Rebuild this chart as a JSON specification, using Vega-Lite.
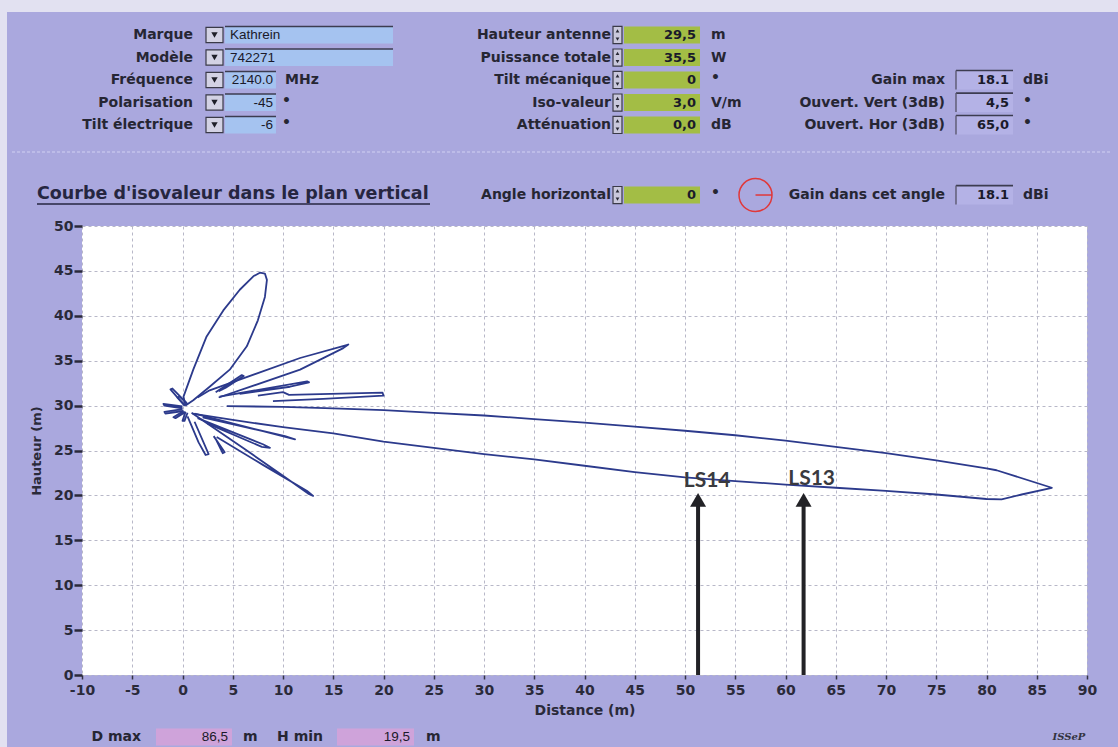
{
"$schema":"https://vega.github.io/schema/vega-lite/v6.json",
"width":1005,"height":449,
"autosize":"none",
"padding":{"left":82,"top":226,"right":31,"bottom":72},
"background":"#aaa8de",
"config":{"view":{"fill":"white","stroke":null}},
"datasets":{
"frame":[
{"x":-18.159,"x2":93.085,"y":73.83,"y2":75.3},
{"x":-18.159,"x2":-17.463,"y":-8.1,"y2":75.3}
],
"boxes":[
{"k":"blue","x":4.229,"x2":20.945,"y":70.32,"y2":72.22},
{"k":"blue","x":4.229,"x2":20.945,"y":67.81,"y2":69.71},
{"k":"blue","x":4.229,"x2":9.303,"y":65.31,"y2":67.21},
{"k":"blue","x":4.229,"x2":9.303,"y":62.80,"y2":64.70},
{"k":"blue","x":4.229,"x2":9.303,"y":60.30,"y2":62.20},
{"k":"dd","x":2.338,"x2":4.030,"y":70.42,"y2":72.12},
{"k":"dd","x":2.338,"x2":4.030,"y":67.91,"y2":69.61},
{"k":"dd","x":2.338,"x2":4.030,"y":65.41,"y2":67.11},
{"k":"dd","x":2.338,"x2":4.030,"y":62.90,"y2":64.60},
{"k":"dd","x":2.338,"x2":4.030,"y":60.40,"y2":62.10},
{"k":"green","x":43.930,"x2":51.493,"y":70.32,"y2":72.22},
{"k":"green","x":43.930,"x2":51.493,"y":67.81,"y2":69.71},
{"k":"green","x":43.930,"x2":51.493,"y":65.31,"y2":67.21},
{"k":"green","x":43.930,"x2":51.493,"y":62.80,"y2":64.70},
{"k":"green","x":43.930,"x2":51.493,"y":60.30,"y2":62.20},
{"k":"green","x":43.930,"x2":51.493,"y":52.50,"y2":54.40},
{"k":"spin","x":42.836,"x2":43.731,"y":70.32,"y2":72.22},
{"k":"spin","x":42.836,"x2":43.731,"y":67.81,"y2":69.71},
{"k":"spin","x":42.836,"x2":43.731,"y":65.31,"y2":67.21},
{"k":"spin","x":42.836,"x2":43.731,"y":62.80,"y2":64.70},
{"k":"spin","x":42.836,"x2":43.731,"y":60.30,"y2":62.20},
{"k":"spin","x":42.836,"x2":43.731,"y":52.50,"y2":54.40},
{"k":"gray","x":76.965,"x2":82.637,"y":65.21,"y2":67.31},
{"k":"gray","x":76.965,"x2":82.637,"y":62.70,"y2":64.80},
{"k":"gray","x":76.965,"x2":82.637,"y":60.20,"y2":62.30},
{"k":"gray","x":76.965,"x2":82.637,"y":52.40,"y2":54.50},
{"k":"pink","x":-2.637,"x2":4.925,"y":-7.85,"y2":-5.95},
{"k":"pink","x":15.373,"x2":23.035,"y":-7.85,"y2":-5.95}
],
"rules":[
{"k":"ul","x":-14.478,"x2":24.627,"y":52.45},
{"k":"bevel","x":4.229,"x2":20.945,"y":72.22},
{"k":"bevel","x":4.229,"x2":20.945,"y":69.71},
{"k":"bevel","x":4.229,"x2":9.303,"y":67.21},
{"k":"bevel","x":4.229,"x2":9.303,"y":64.70},
{"k":"bevel","x":4.229,"x2":9.303,"y":62.20},
{"k":"bevel","x":76.965,"x2":82.637,"y":67.31},
{"k":"bevel","x":76.965,"x2":82.637,"y":64.80},
{"k":"bevel","x":76.965,"x2":82.637,"y":62.30},
{"k":"bevel","x":76.965,"x2":82.637,"y":54.50},
{"k":"red","x":57.015,"x2":58.657,"y":53.45}
],
"vbevel":[
{"x":76.965,"y":65.21,"y2":67.31},
{"x":76.965,"y":62.70,"y2":64.80},
{"x":76.965,"y":60.20,"y2":62.30},
{"x":76.965,"y":52.40,"y2":54.50}
],
"sep":[{"x":-16.965,"x2":92.289,"y":58.24}],
"ring":[{"x":57.015,"y":53.45}],
"ddarrow":[
{"x":3.184,"y":71.27},{"x":3.184,"y":68.76},{"x":3.184,"y":66.26},{"x":3.184,"y":63.75},{"x":3.184,"y":61.25}
],
"spinarrow":[
{"s":"u","x":43.284,"y":71.72},{"s":"d","x":43.284,"y":70.82},
{"s":"u","x":43.284,"y":69.21},{"s":"d","x":43.284,"y":68.31},
{"s":"u","x":43.284,"y":66.71},{"s":"d","x":43.284,"y":65.81},
{"s":"u","x":43.284,"y":64.20},{"s":"d","x":43.284,"y":63.30},
{"s":"u","x":43.284,"y":61.70},{"s":"d","x":43.284,"y":60.80},
{"s":"u","x":43.284,"y":53.90},{"s":"d","x":43.284,"y":53.00}
],
"texts":[
{"g":"lab","t":"Marque","x":1.045,"y":71.27},
{"g":"lab","t":"Modèle","x":1.045,"y":68.76},
{"g":"lab","t":"Fréquence","x":1.045,"y":66.26},
{"g":"lab","t":"Polarisation","x":1.045,"y":63.75},
{"g":"lab","t":"Tilt électrique","x":1.045,"y":61.25},
{"g":"lab","t":"Hauteur antenne","x":42.637,"y":71.27},
{"g":"lab","t":"Puissance totale","x":42.637,"y":68.76},
{"g":"lab","t":"Tilt mécanique","x":42.637,"y":66.26},
{"g":"lab","t":"Iso-valeur","x":42.637,"y":63.75},
{"g":"lab","t":"Atténuation","x":42.637,"y":61.25},
{"g":"lab","t":"Gain max","x":75.871,"y":66.26},
{"g":"lab","t":"Ouvert. Vert (3dB)","x":75.871,"y":63.75},
{"g":"lab","t":"Ouvert. Hor (3dB)","x":75.871,"y":61.25},
{"g":"lab","t":"Angle horizontal","x":42.637,"y":53.45},
{"g":"lab","t":"Gain dans cet angle","x":75.871,"y":53.45},
{"g":"lab","t":"D max","x":-4.129,"y":-6.90},
{"g":"lab","t":"H min","x":13.98,"y":-6.90},
{"g":"valL","t":"Kathrein","x":4.726,"y":71.27},
{"g":"valL","t":"742271","x":4.726,"y":68.76},
{"g":"valR","t":"2140.0","x":9.005,"y":66.26},
{"g":"valR","t":"-45","x":9.005,"y":63.75},
{"g":"valR","t":"-6","x":9.005,"y":61.25},
{"g":"valR","t":"86,5","x":4.527,"y":-6.90},
{"g":"valR","t":"19,5","x":22.637,"y":-6.90},
{"g":"valB","t":"29,5","x":51.095,"y":71.27},
{"g":"valB","t":"35,5","x":51.095,"y":68.76},
{"g":"valB","t":"0","x":51.095,"y":66.26},
{"g":"valB","t":"3,0","x":51.095,"y":63.75},
{"g":"valB","t":"0,0","x":51.095,"y":61.25},
{"g":"valB","t":"0","x":51.095,"y":53.45},
{"g":"valB","t":"18.1","x":82.239,"y":66.26},
{"g":"valB","t":"4,5","x":82.239,"y":63.75},
{"g":"valB","t":"65,0","x":82.239,"y":61.25},
{"g":"valB","t":"18.1","x":82.239,"y":53.45},
{"g":"unit","t":"MHz","x":10.199,"y":66.26},
{"g":"unit","t":"•","x":9.90,"y":63.95},
{"g":"unit","t":"•","x":9.90,"y":61.45},
{"g":"unit","t":"m","x":52.587,"y":71.27},
{"g":"unit","t":"W","x":52.587,"y":68.76},
{"g":"unit","t":"•","x":52.587,"y":66.46},
{"g":"unit","t":"V/m","x":52.587,"y":63.75},
{"g":"unit","t":"dB","x":52.587,"y":61.25},
{"g":"unit","t":"•","x":52.587,"y":53.65},
{"g":"unit","t":"dBi","x":83.632,"y":66.26},
{"g":"unit","t":"•","x":83.632,"y":63.95},
{"g":"unit","t":"•","x":83.632,"y":61.45},
{"g":"unit","t":"dBi","x":83.632,"y":53.45},
{"g":"unit","t":"m","x":6.02,"y":-6.90},
{"g":"unit","t":"m","x":24.229,"y":-6.90},
{"g":"title","t":"Courbe d'isovaleur dans le plan vertical","x":-14.478,"y":53.56},
{"g":"logo","t":"ISSeP","x":88.2,"y":-6.9}
],
"ls":[
{"t":"LS14","x":52.2,"y":21.65,"ax":51.3,"y0":0,"y1":19.2,"tip":19.5},
{"t":"LS13","x":62.6,"y":21.8,"ax":61.8,"y0":0,"y1":19.2,"tip":19.5}
],
"curve":[
{"l":"A","i":0,"x":0.3,"y":30.0},{"l":"A","i":1,"x":0.1,"y":31.0},{"l":"A","i":2,"x":1.07,"y":34.0},{"l":"A","i":3,"x":2.4,"y":37.7},{"l":"A","i":4,"x":4.06,"y":40.6},{"l":"A","i":5,"x":5.7,"y":42.9},{"l":"A","i":6,"x":7.05,"y":44.4},{"l":"A","i":7,"x":7.7,"y":44.8},{"l":"A","i":8,"x":8.2,"y":44.7},{"l":"A","i":9,"x":8.4,"y":44.0},{"l":"A","i":10,"x":8.2,"y":42.1},{"l":"A","i":11,"x":7.5,"y":39.5},{"l":"A","i":12,"x":6.4,"y":36.6},{"l":"A","i":13,"x":4.7,"y":34.0},{"l":"A","i":14,"x":2.7,"y":32.1},{"l":"A","i":15,"x":1.07,"y":30.6},{"l":"A","i":16,"x":0.3,"y":30.0},
{"l":"B","i":0,"x":1.5,"y":30.9},{"l":"B","i":1,"x":2.7,"y":31.7},{"l":"B","i":2,"x":11.7,"y":35.3},{"l":"B","i":3,"x":16.5,"y":36.8},{"l":"B","i":4,"x":16.0,"y":36.4},{"l":"B","i":5,"x":11.7,"y":34.0},{"l":"B","i":6,"x":3.6,"y":30.9},
{"l":"C","i":0,"x":3.3,"y":31.5},{"l":"C","i":1,"x":5.9,"y":33.4},{"l":"C","i":2,"x":6.1,"y":33.3},{"l":"C","i":3,"x":4.3,"y":32.0},{"l":"C","i":4,"x":3.6,"y":31.6},
{"l":"D","i":0,"x":3.7,"y":31.0},{"l":"D","i":1,"x":12.4,"y":32.7},{"l":"D","i":2,"x":12.6,"y":32.6},{"l":"D","i":3,"x":10.7,"y":32.1},{"l":"D","i":4,"x":5.7,"y":31.3},
{"l":"E","i":0,"x":7.5,"y":31.1},{"l":"E","i":1,"x":10.0,"y":31.5},{"l":"E","i":2,"x":10.6,"y":31.2},{"l":"E","i":3,"x":19.9,"y":31.45},{"l":"E","i":4,"x":20.0,"y":31.1},{"l":"E","i":5,"x":14.0,"y":30.75},{"l":"E","i":6,"x":9.0,"y":30.5},
{"l":"M","i":0,"x":4.4,"y":29.95},{"l":"M","i":1,"x":10,"y":29.85},{"l":"M","i":2,"x":15,"y":29.7},{"l":"M","i":3,"x":20,"y":29.5},{"l":"M","i":4,"x":25,"y":29.2},{"l":"M","i":5,"x":30,"y":28.9},{"l":"M","i":6,"x":35,"y":28.5},{"l":"M","i":7,"x":40,"y":28.1},{"l":"M","i":8,"x":45,"y":27.65},{"l":"M","i":9,"x":50,"y":27.2},{"l":"M","i":10,"x":55,"y":26.7},{"l":"M","i":11,"x":60,"y":26.1},{"l":"M","i":12,"x":65,"y":25.4},{"l":"M","i":13,"x":70,"y":24.7},{"l":"M","i":14,"x":75,"y":23.9},{"l":"M","i":15,"x":80,"y":23.0},{"l":"M","i":16,"x":81,"y":22.8},{"l":"M","i":17,"x":86.5,"y":20.85},{"l":"M","i":18,"x":83.5,"y":20.1},{"l":"M","i":19,"x":81.5,"y":19.55},{"l":"M","i":20,"x":80,"y":19.6},{"l":"M","i":21,"x":75,"y":20.1},{"l":"M","i":22,"x":70,"y":20.5},{"l":"M","i":23,"x":65,"y":20.85},{"l":"M","i":24,"x":60,"y":21.2},{"l":"M","i":25,"x":55,"y":21.6},{"l":"M","i":26,"x":50,"y":22.0},{"l":"M","i":27,"x":45,"y":22.6},{"l":"M","i":28,"x":40,"y":23.3},{"l":"M","i":29,"x":35,"y":24.0},{"l":"M","i":30,"x":30,"y":24.6},{"l":"M","i":31,"x":25,"y":25.3},{"l":"M","i":32,"x":20,"y":26.0},{"l":"M","i":33,"x":15,"y":26.9},{"l":"M","i":34,"x":10,"y":27.6},{"l":"M","i":35,"x":5,"y":28.4},{"l":"M","i":36,"x":1.0,"y":29.1},
{"l":"F","i":0,"x":1.2,"y":29.1},{"l":"F","i":1,"x":11.2,"y":26.25},{"l":"F","i":2,"x":10.2,"y":26.6},{"l":"F","i":3,"x":2.0,"y":28.7},
{"l":"G","i":0,"x":1.5,"y":28.6},{"l":"G","i":1,"x":8.0,"y":25.7},{"l":"G","i":2,"x":8.7,"y":25.3},{"l":"G","i":3,"x":7.9,"y":25.4},{"l":"G","i":4,"x":2.5,"y":28.0},
{"l":"H","i":0,"x":0.5,"y":28.8},{"l":"H","i":1,"x":1.6,"y":25.9},{"l":"H","i":2,"x":2.3,"y":24.5},{"l":"H","i":3,"x":2.6,"y":24.6},{"l":"H","i":4,"x":1.2,"y":28.2},
{"l":"I","i":0,"x":3.1,"y":26.6},{"l":"I","i":1,"x":4.2,"y":24.8},{"l":"I","i":2,"x":4.0,"y":24.7},{"l":"I","i":3,"x":3.3,"y":26.3},
{"l":"J","i":0,"x":0.9,"y":29.2},{"l":"J","i":1,"x":6,"y":25.3},{"l":"J","i":2,"x":10,"y":22.2},{"l":"J","i":3,"x":12.5,"y":20.2},{"l":"J","i":4,"x":13.0,"y":19.95},{"l":"J","i":5,"x":12.4,"y":20.5},{"l":"J","i":6,"x":8,"y":23.4},{"l":"J","i":7,"x":3.4,"y":26.5},
{"l":"K1","i":0,"x":0.2,"y":30.0},{"l":"K1","i":1,"x":-1.2,"y":31.8},{"l":"K1","i":2,"x":-1.0,"y":31.9},{"l":"K1","i":3,"x":0.4,"y":30.3},
{"l":"K2","i":0,"x":0.0,"y":29.9},{"l":"K2","i":1,"x":-1.9,"y":30.2},{"l":"K2","i":2,"x":-1.8,"y":30.0},{"l":"K2","i":3,"x":0.0,"y":29.7},
{"l":"K3","i":0,"x":0.0,"y":29.6},{"l":"K3","i":1,"x":-1.8,"y":29.3},{"l":"K3","i":2,"x":-1.7,"y":29.1},{"l":"K3","i":3,"x":0.1,"y":29.4},
{"l":"K4","i":0,"x":0.1,"y":29.4},{"l":"K4","i":1,"x":-0.9,"y":28.7},{"l":"K4","i":2,"x":-0.7,"y":28.6},{"l":"K4","i":3,"x":0.3,"y":29.3},
{"l":"K5","i":0,"x":0.3,"y":29.3},{"l":"K5","i":1,"x":0.0,"y":28.3},{"l":"K5","i":2,"x":0.2,"y":28.3},{"l":"K5","i":3,"x":0.5,"y":29.2},
{"l":"K6","i":0,"x":0.3,"y":30.0},{"l":"K6","i":1,"x":-0.5,"y":30.9},{"l":"K6","i":2,"x":-0.3,"y":31.0},{"l":"K6","i":3,"x":0.5,"y":30.2}
]
},
"layer":[
{"data":{"name":"curve"},
 "mark":{"type":"line","color":"#2c3a8c","strokeWidth":1.8,"strokeJoin":"round"},
 "encoding":{
  "x":{"field":"x","type":"quantitative","scale":{"domain":[-10,90],"nice":false,"zero":false},
       "axis":{"values":[-10,-5,0,5,10,15,20,25,30,35,40,45,50,55,60,65,70,75,80,85,90],"labelExpr":"'' + datum.value","title":"Distance (m)","grid":true,"gridColor":"#b8b8c8","gridDash":[3,3],"gridWidth":1,"domain":false,"ticks":true,"tickSize":4,"tickWidth":1.5,"tickColor":"#333344","labelFont":"DejaVu Sans","labelFontWeight":"bold","labelFontSize":14,"labelColor":"#2a2a3a","labelPadding":4,"labelFlush":false,"labelOverlap":false,"titleFont":"DejaVu Sans","titleFontWeight":"bold","titleFontSize":14,"titleColor":"#2a2a3a","titlePadding":6}},
  "y":{"field":"y","type":"quantitative","scale":{"domain":[0,50],"nice":false,"zero":false},
       "axis":{"values":[0,5,10,15,20,25,30,35,40,45,50],"title":"Hauteur (m)","grid":true,"gridColor":"#b8b8c8","gridDash":[3,3],"gridWidth":1,"domain":false,"ticks":true,"tickSize":8,"tickWidth":2.5,"tickColor":"#2a2a3a","labelFont":"DejaVu Sans","labelFontWeight":"bold","labelFontSize":14,"labelColor":"#2a2a3a","labelPadding":1,"labelFlush":false,"labelOverlap":false,"titleFont":"DejaVu Sans","titleFontWeight":"bold","titleFontSize":13,"titleColor":"#2a2a3a","titlePadding":10}},
  "detail":{"field":"l"},
  "order":{"field":"i","type":"quantitative"}}},
{"data":{"name":"frame"},"mark":{"type":"rect","color":"#e2e1f1"},
 "encoding":{"x":{"field":"x","type":"quantitative"},"x2":{"field":"x2"},"y":{"field":"y","type":"quantitative"},"y2":{"field":"y2"}}},
{"data":{"name":"sep"},"mark":{"type":"rule","color":"#c4c2ec","strokeWidth":1.5,"strokeDash":[3,2]},
 "encoding":{"x":{"field":"x","type":"quantitative"},"x2":{"field":"x2"},"y":{"field":"y","type":"quantitative"}}},
{"data":{"name":"boxes"},"mark":{"type":"rect"},
 "encoding":{"x":{"field":"x","type":"quantitative"},"x2":{"field":"x2"},"y":{"field":"y","type":"quantitative"},"y2":{"field":"y2"},
  "color":{"field":"k","type":"nominal","legend":null,"scale":{"domain":["blue","dd","green","spin","gray","pink"],"range":["#a5c3f0","#d3d2e4","#a3bd45","#c9c8dc","#b4b2e6","#cfa3da"]}}}},
{"data":{"name":"boxes"},"transform":[{"filter":"datum.k==='dd' || datum.k==='spin'"}],"mark":{"type":"rect","filled":false,"stroke":"#3a3a48","strokeWidth":1.2},
 "encoding":{"x":{"field":"x","type":"quantitative"},"x2":{"field":"x2"},"y":{"field":"y","type":"quantitative"},"y2":{"field":"y2"}}},
{"data":{"name":"rules"},"transform":[{"filter":"datum.k==='ul'"}],"mark":{"type":"rule","strokeWidth":1.6,"color":"#262640"},
 "encoding":{"x":{"field":"x","type":"quantitative"},"x2":{"field":"x2"},"y":{"field":"y","type":"quantitative"}}},
{"data":{"name":"rules"},"transform":[{"filter":"datum.k==='bevel'"}],"mark":{"type":"rule","strokeWidth":1.6,"color":"#3c3c50"},
 "encoding":{"x":{"field":"x","type":"quantitative"},"x2":{"field":"x2"},"y":{"field":"y","type":"quantitative"}}},
{"data":{"name":"vbevel"},"mark":{"type":"rule","strokeWidth":1.4,"color":"#5a5870"},
 "encoding":{"x":{"field":"x","type":"quantitative"},"y":{"field":"y","type":"quantitative"},"y2":{"field":"y2"}}},
{"data":{"name":"rules"},"transform":[{"filter":"datum.k==='red'"}],"mark":{"type":"rule","strokeWidth":1.5,"color":"#e0383a"},
 "encoding":{"x":{"field":"x","type":"quantitative"},"x2":{"field":"x2"},"y":{"field":"y","type":"quantitative"}}},
{"data":{"name":"ring"},"mark":{"type":"point","shape":"circle","filled":false,"stroke":"#e0383a","strokeWidth":1.5,"size":1089,"opacity":1},
 "encoding":{"x":{"field":"x","type":"quantitative"},"y":{"field":"y","type":"quantitative"}}},
{"data":{"name":"ddarrow"},"mark":{"type":"point","shape":"triangle-down","filled":true,"color":"#1e1e28","size":40,"opacity":1},
 "encoding":{"x":{"field":"x","type":"quantitative"},"y":{"field":"y","type":"quantitative"}}},
{"data":{"name":"spinarrow"},"mark":{"type":"point","filled":true,"color":"#2a2a36","size":14,"opacity":1},
 "encoding":{"x":{"field":"x","type":"quantitative"},"y":{"field":"y","type":"quantitative"},
  "shape":{"field":"s","type":"nominal","legend":null,"scale":{"domain":["u","d"],"range":["triangle-up","triangle-down"]}}}},
{"data":{"name":"texts"},"transform":[{"filter":"datum.g==='lab'"}],"mark":{"type":"text","align":"right","baseline":"middle","font":"DejaVu Sans","fontWeight":"bold","fontSize":14,"color":"#262633"},
 "encoding":{"x":{"field":"x","type":"quantitative"},"y":{"field":"y","type":"quantitative"},"text":{"field":"t"}}},
{"data":{"name":"texts"},"transform":[{"filter":"datum.g==='valL'"}],"mark":{"type":"text","align":"left","baseline":"middle","font":"Liberation Sans","fontSize":13.5,"color":"#1a1a2a"},
 "encoding":{"x":{"field":"x","type":"quantitative"},"y":{"field":"y","type":"quantitative"},"text":{"field":"t"}}},
{"data":{"name":"texts"},"transform":[{"filter":"datum.g==='valR'"}],"mark":{"type":"text","align":"right","baseline":"middle","font":"Liberation Sans","fontSize":13.5,"color":"#1a1a2a"},
 "encoding":{"x":{"field":"x","type":"quantitative"},"y":{"field":"y","type":"quantitative"},"text":{"field":"t"}}},
{"data":{"name":"texts"},"transform":[{"filter":"datum.g==='valB'"}],"mark":{"type":"text","align":"right","baseline":"middle","font":"DejaVu Sans","fontWeight":"bold","fontSize":13,"color":"#1a1a2a"},
 "encoding":{"x":{"field":"x","type":"quantitative"},"y":{"field":"y","type":"quantitative"},"text":{"field":"t"}}},
{"data":{"name":"texts"},"transform":[{"filter":"datum.g==='unit'"}],"mark":{"type":"text","align":"left","baseline":"middle","font":"DejaVu Sans","fontWeight":"bold","fontSize":14,"color":"#262633"},
 "encoding":{"x":{"field":"x","type":"quantitative"},"y":{"field":"y","type":"quantitative"},"text":{"field":"t"}}},
{"data":{"name":"texts"},"transform":[{"filter":"datum.g==='title'"}],"mark":{"type":"text","align":"left","baseline":"middle","font":"DejaVu Sans","fontWeight":"bold","fontSize":17.5,"color":"#262640"},
 "encoding":{"x":{"field":"x","type":"quantitative"},"y":{"field":"y","type":"quantitative"},"text":{"field":"t"}}},
{"data":{"name":"texts"},"transform":[{"filter":"datum.g==='logo'"}],"mark":{"type":"text","align":"center","baseline":"middle","font":"DejaVu Serif","fontWeight":"bold","fontStyle":"italic","fontSize":10,"color":"#333340"},
 "encoding":{"x":{"field":"x","type":"quantitative"},"y":{"field":"y","type":"quantitative"},"text":{"field":"t"}}},
{"data":{"name":"ls"},"mark":{"type":"rule","color":"#222226","strokeWidth":4},
 "encoding":{"x":{"field":"ax","type":"quantitative"},"y":{"field":"y0","type":"quantitative"},"y2":{"field":"y1"}}},
{"data":{"name":"ls"},"mark":{"type":"point","shape":"triangle-up","filled":true,"color":"#222226","size":256,"opacity":1},
 "encoding":{"x":{"field":"ax","type":"quantitative"},"y":{"field":"tip","type":"quantitative"}}},
{"data":{"name":"ls"},"mark":{"type":"text","align":"center","baseline":"middle","font":"Lato","fontWeight":"bold","fontSize":21,"color":"#3a3a3e"},
 "encoding":{"x":{"field":"x","type":"quantitative"},"y":{"field":"y","type":"quantitative"},"text":{"field":"t"}}}
]
}
